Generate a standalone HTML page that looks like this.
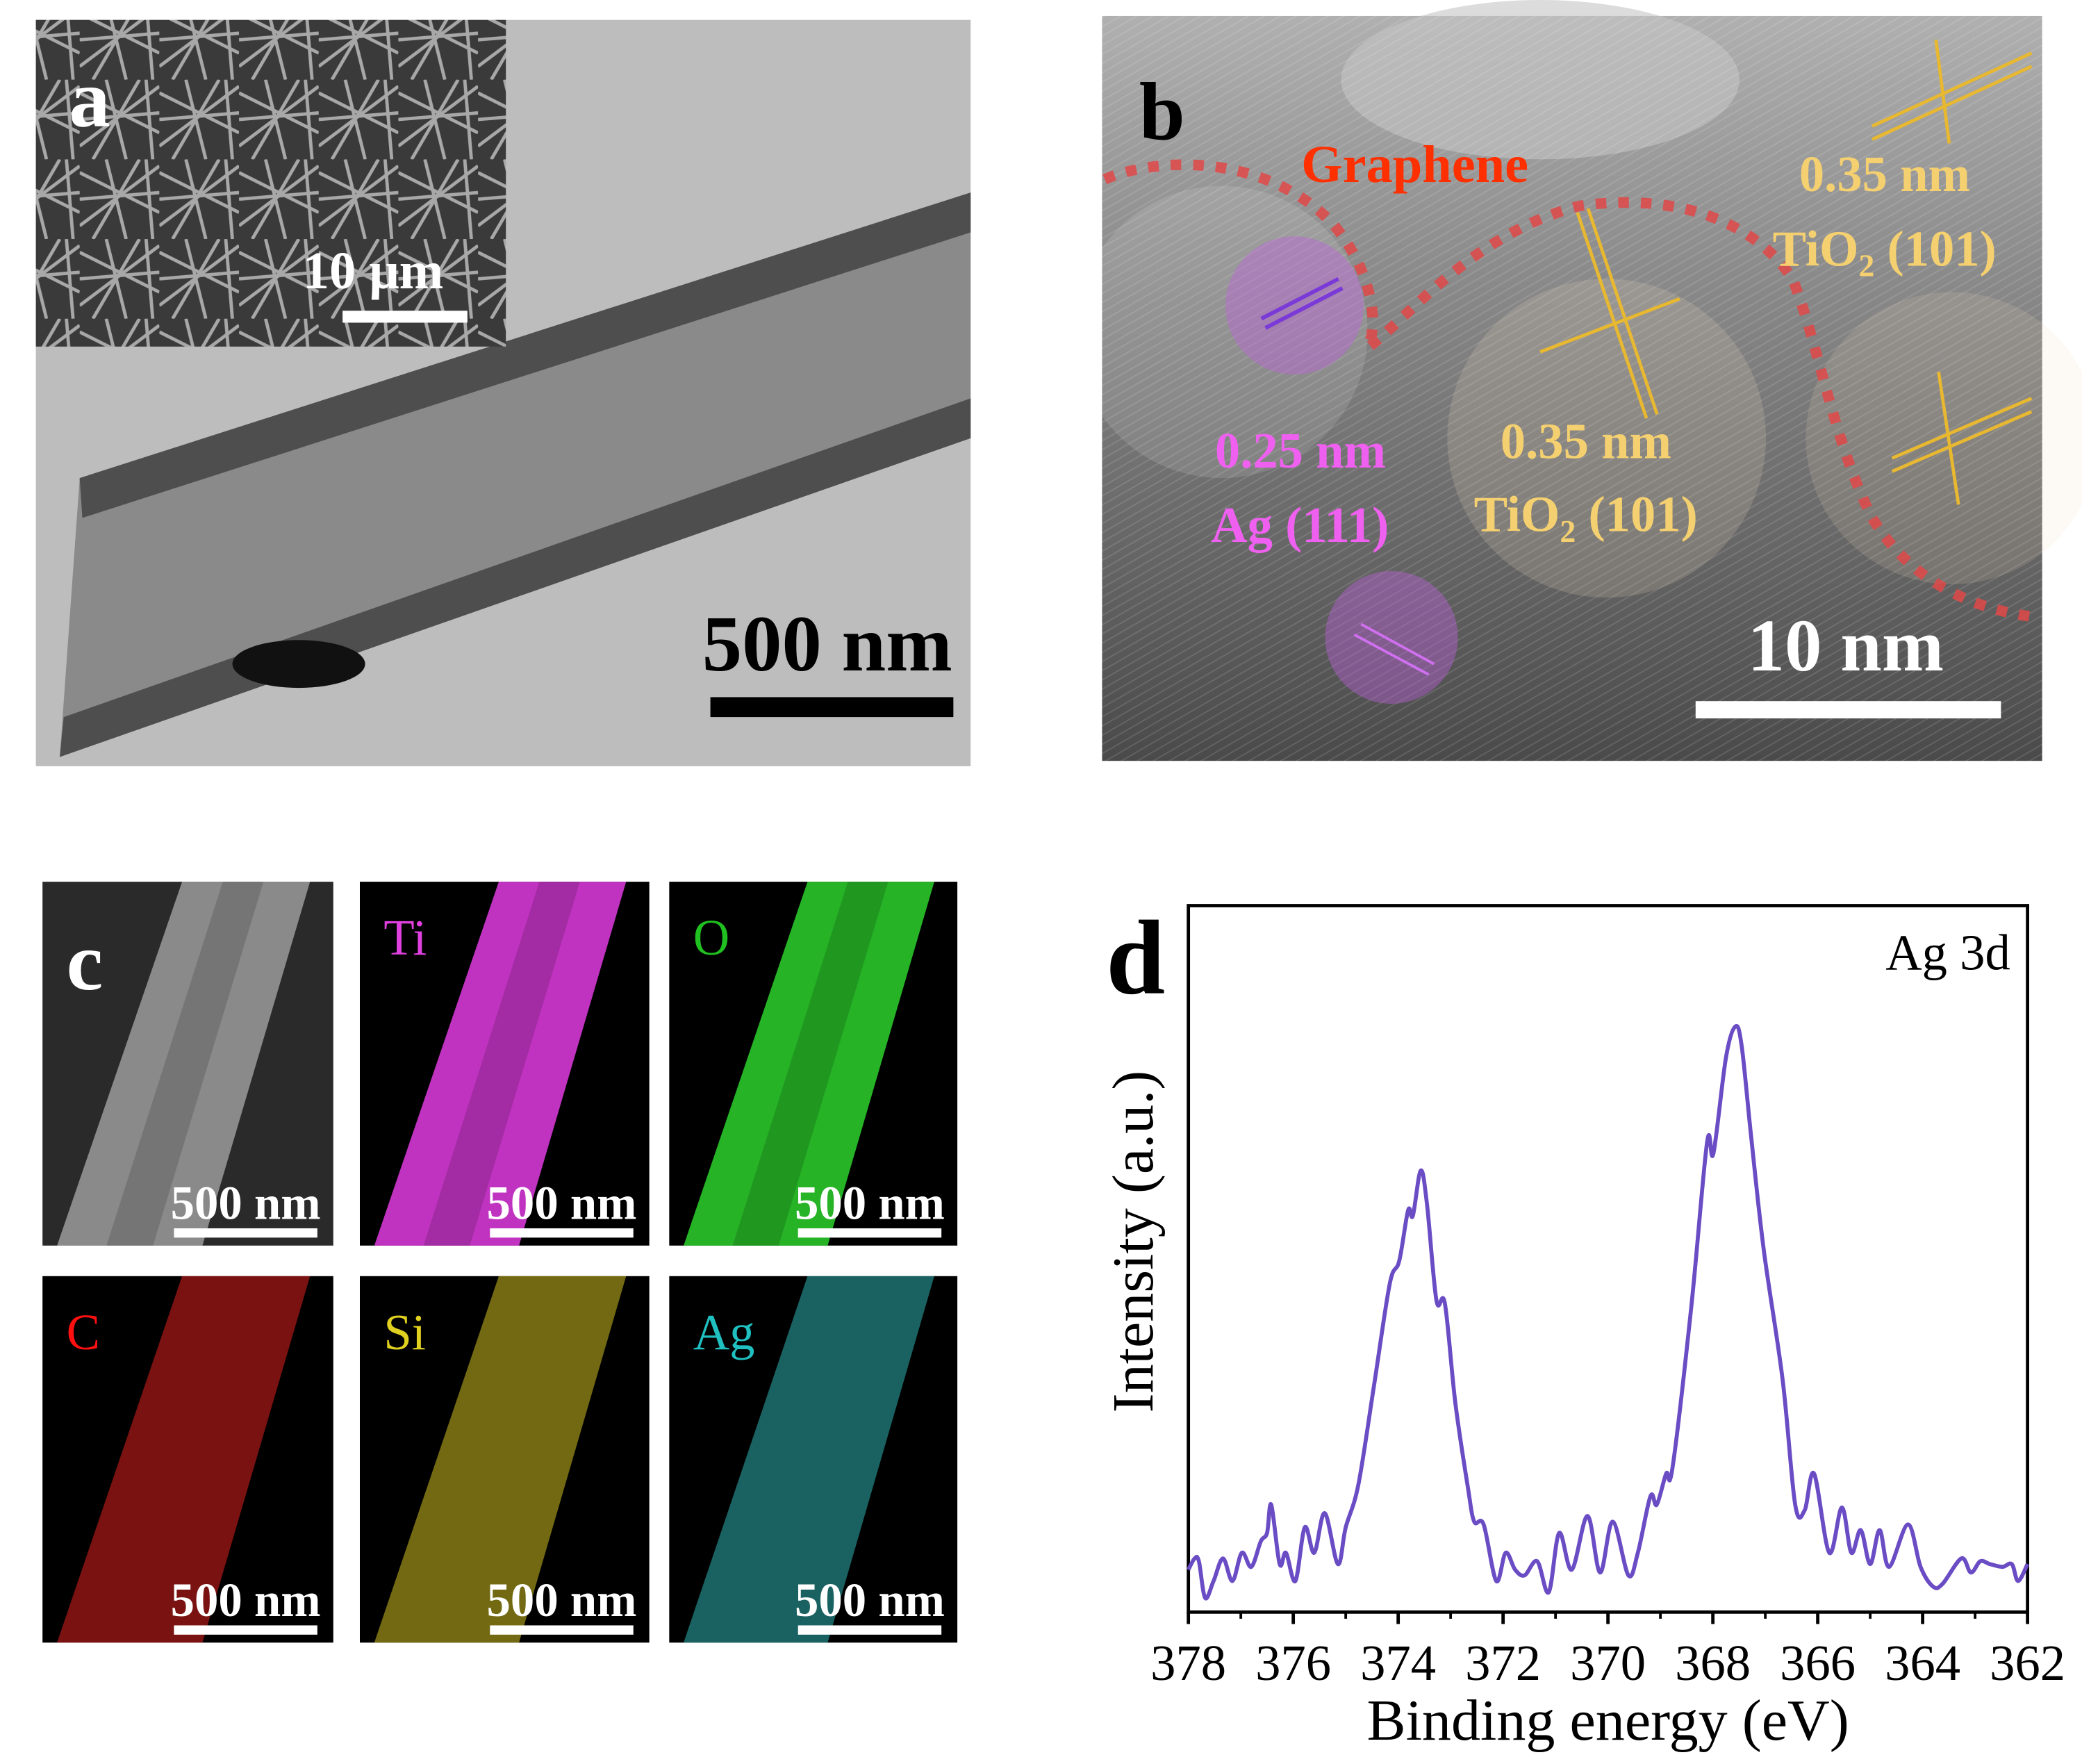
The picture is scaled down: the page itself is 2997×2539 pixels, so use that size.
<!DOCTYPE html>
<html><head><meta charset="utf-8"><style>
html,body{margin:0;padding:0;background:#fff}
svg{display:block}
text{font-family:"Liberation Serif",serif}
</style></head><body>
<svg id="fig" width="2997" height="2539" viewBox="0 0 1568 1328.4" xmlns="http://www.w3.org/2000/svg">
<defs>
<linearGradient id="bgB" x1="0" y1="0" x2="0" y2="1">
<stop offset="0" stop-color="#b0b0b0"/><stop offset="0.35" stop-color="#8a8a8a"/><stop offset="1" stop-color="#4a4a4a"/></linearGradient>
<pattern id="sem" width="60" height="60" patternUnits="userSpaceOnUse">
<rect width="60" height="60" fill="#3a3a3a"/>
<path d="M0 10 L60 40 M0 50 L60 5 M20 0 L35 60 M45 0 L10 60 M0 30 L60 25 M50 0 L55 60" stroke="#a8a8a8" stroke-width="2.5"/>
</pattern>
<pattern id="lat" width="6" height="6" patternUnits="userSpaceOnUse" patternTransform="rotate(-30)">
<rect width="6" height="6" fill="none"/><line x1="0" y1="0" x2="6" y2="0" stroke="#ffffff" stroke-opacity="0.12" stroke-width="2"/></pattern>
</defs>

<!-- Panel a -->
<g>
<rect x="27" y="15" width="704" height="562" fill="#bdbdbd"/>
<polygon points="60,360 731,145 731,330 45,570" fill="#8a8a8a"/>
<polygon points="60,360 731,145 731,175 62,390" fill="#4e4e4e"/>
<polygon points="48,540 731,300 731,330 45,570" fill="#4e4e4e"/>
<ellipse cx="225" cy="500" rx="50" ry="18" fill="#111"/>
<rect x="27" y="15" width="354" height="246" fill="url(#sem)"/>
<text x="52" y="95" font-size="62" font-weight="bold" fill="#fff">a</text>
<text x="228" y="217" font-size="40" font-weight="bold" fill="#fff">10 μm</text>
<rect x="258" y="234" width="94" height="9" fill="#fff"/>
<text x="623" y="505" font-size="60" font-weight="bold" fill="#000" text-anchor="middle">500 nm</text>
<rect x="535" y="525" width="183" height="15" fill="#000"/>
</g>

<!-- Panel b -->
<g>
<rect x="830" y="12" width="708" height="561" fill="url(#bgB)"/>
<ellipse cx="1160" cy="60" rx="150" ry="60" fill="#c4c4c4" fill-opacity="0.6"/>
<rect x="830" y="12" width="708" height="561" fill="url(#lat)"/>
<circle cx="920" cy="250" r="110" fill="#ffffff" fill-opacity="0.12"/>
<circle cx="1210" cy="330" r="120" fill="#f0e0c0" fill-opacity="0.18"/>
<circle cx="1470" cy="330" r="110" fill="#f0e0c0" fill-opacity="0.15"/>
<circle cx="975" cy="230" r="52" fill="#c060e0" fill-opacity="0.4"/>
<circle cx="1048" cy="480" r="50" fill="#c060e0" fill-opacity="0.4"/>
<path d="M950 240 L1008 210 M953 247 L1011 217" stroke="#7a3ad8" stroke-width="3"/>
<path d="M1025 470 L1080 500 M1020 478 L1076 508" stroke="#d070f0" stroke-width="2"/>
<path d="M1160 265 L1265 225 M1188 160 L1240 315 M1196 157 L1248 312" stroke="#e8b830" stroke-width="2.5"/>
<path d="M1410 95 L1530 40 M1410 105 L1530 50 M1458 30 L1468 108" stroke="#e8b830" stroke-width="2.5"/>
<path d="M1425 345 L1530 300 M1425 355 L1530 310 M1460 280 L1475 380" stroke="#e8b830" stroke-width="2.5"/>
<path d="M832 135 C880 115 960 120 1005 170 C1030 200 1040 240 1030 262 C1060 240 1110 175 1190 155 C1260 145 1320 165 1350 210 C1370 260 1380 330 1410 390 C1440 440 1490 460 1535 465" fill="none" stroke="#e04848" stroke-width="8" stroke-dasharray="8 9" stroke-opacity="0.85"/>
<text x="858" y="105" font-size="62" font-weight="bold" fill="#000">b</text>
<text x="980" y="137" font-size="40" font-weight="bold" fill="#ff3000">Graphene</text>
<text x="1355" y="144" font-size="38" font-weight="bold" fill="#f5d070">0.35 nm</text>
<text x="1335" y="200" font-size="38" font-weight="bold" fill="#f5d070">TiO<tspan font-size="24" dy="8">2</tspan><tspan dy="-8"> (101)</tspan></text>
<text x="915" y="352" font-size="38" font-weight="bold" fill="#f060f0">0.25 nm</text>
<text x="912" y="408" font-size="38" font-weight="bold" fill="#f060f0">Ag (111)</text>
<text x="1130" y="345" font-size="38" font-weight="bold" fill="#f5d070">0.35 nm</text>
<text x="1110" y="400" font-size="38" font-weight="bold" fill="#f5d070">TiO<tspan font-size="24" dy="8">2</tspan><tspan dy="-8"> (101)</tspan></text>
<text x="1390" y="505" font-size="56" font-weight="bold" fill="#fff" text-anchor="middle">10 nm</text>
<rect x="1277" y="528" width="230" height="13" fill="#fff"/>
</g>

<!-- Panel c -->
<g id="panelC"></g>

<!-- Panel d -->
<g id="chart"></g>
</svg>
<script>
// ---- Panel d data (Ag 3d XPS) ----
const energies=[378.00,377.88,377.80,377.68,377.52,377.34,377.16,376.98,376.80,376.62,376.50,376.42,376.26,376.14,375.96,375.78,375.60,375.40,375.15,375.00,374.76,374.46,374.16,373.98,373.81,373.72,373.57,373.45,373.27,373.11,372.91,372.67,372.55,372.37,372.13,371.95,371.77,371.59,371.35,371.13,370.93,370.69,370.39,370.15,369.91,369.61,369.43,369.19,369.07,368.89,368.77,368.41,368.11,367.99,367.75,367.57,367.45,367.27,367.03,366.67,366.43,366.25,366.07,365.78,365.54,365.36,365.18,365.00,364.82,364.64,364.28,364.04,363.80,363.62,363.26,363.08,362.90,362.72,362.48,362.30,362.18,362.00];
const intensities=[6.0,7.6,7.2,2.0,4.4,7.6,4.4,8.4,6.4,10.0,11.2,15.2,6.8,8.4,4.4,12.0,8.4,14.0,6.8,12.0,18.0,32.1,46.5,49.7,56.9,56.1,62.5,57.7,44.1,43.7,29.6,17.6,12.8,12.4,4.4,8.4,6.0,5.2,7.2,2.8,11.2,6.0,13.6,5.6,12.8,5.2,8.4,16.4,15.2,19.6,20.4,43.3,66.5,64.9,78.5,82.9,80.1,67.3,51.3,32.9,15.2,14.4,19.6,8.4,14.8,8.4,11.6,6.8,11.6,6.4,12.4,6.4,3.6,4.0,7.6,5.6,7.2,6.8,6.4,6.8,4.4,6.8];
const xTicks=[378,376,374,372,370,368,366,364,362];
const xMinor=[377,375,373,371,369,367,365,363];
const tileLabels=["","Ti","O","C","Si","Ag"];
const tileColors=["#d8d8d8","#f040f0","#30e030","#e02020","#d0c020","#30b0b0"];
const tileTextColors=["#fff","#e040e0","#20c020","#ff1010","#e0d020","#20c0c0"];

const NS="http://www.w3.org/2000/svg";
function mk(tag,attrs,parent){const e=document.createElementNS(NS,tag);for(const k in attrs)e.setAttribute(k,attrs[k]);parent.appendChild(e);return e;}

// Panel c tiles
const pc=document.getElementById('panelC');
const cols=[[32,251],[271,489],[504,721]], rows=[[664,938],[961,1237]];
for(let i=0;i<6;i++){
  const [x0,x1]=cols[i%3],[y0,y1]=rows[Math.floor(i/3)];const w=x1-x0,h=y1-y0;
  const g=mk('g',{},pc);
  
  
  mk('rect',{x:x0,y:y0,width:w,height:h,fill:i===0?'#2a2a2a':'#000'},g);
  mk('polygon',{points:`${x0+0.05*w},${y1} ${x0+0.55*w},${y1} ${x0+0.92*w},${y0} ${x0+0.48*w},${y0}`,fill:tileColors[i],'fill-opacity':i===0?0.55:(i<3?0.8:0.55)},g);
  if(i<3){mk('polygon',{points:`${x0+0.22*w},${y1} ${x0+0.38*w},${y1} ${x0+0.76*w},${y0} ${x0+0.62*w},${y0}`,fill:'#000','fill-opacity':0.15},g);}
  if(tileLabels[i]){const t=mk('text',{x:x0+18,y:y0+55,'font-size':38,fill:tileTextColors[i]},g);t.textContent=tileLabels[i];
    
    }
  const st=mk('text',{x:x1-66,y:y1-20,'font-size':36,'font-weight':'bold',fill:'#fff','text-anchor':'middle'},g);st.textContent='500 nm';
  
  
  const sb=mk('rect',{x:x1-120,y:y1-13,width:108,height:7,fill:'#fff'},g);
  
  
}
const cl=mk('text',{x:50,y:745,'font-size':62,'font-weight':'bold',fill:'#fff'},pc);cl.textContent='c';



// Panel d chart
const ch=document.getElementById('chart');
const L=895,R=1527,T=682,B=1214;
const xs=e=>L+(378-e)/(378-362)*(R-L);
const ys=v=>B-v/100*(B-T);
const box=mk('rect',{x:L,y:T,width:R-L,height:B-T,fill:'none',stroke:'#000','stroke-width':2.5},ch);


xTicks.forEach(v=>{
  const tk=mk('line',{x1:xs(v),x2:xs(v),y1:B,y2:B+9,stroke:'#000','stroke-width':2.5},ch);
  
  
  const t=mk('text',{x:xs(v),y:B+51,'font-size':38,'text-anchor':'middle',fill:'#000'},ch);t.textContent=v;
  
  
});
xMinor.forEach(v=>{
  const tk=mk('line',{x1:xs(v),x2:xs(v),y1:B,y2:B+5,stroke:'#000','stroke-width':2},ch);
  
  
});
const P=energies.map((e,i)=>[xs(e),ys(intensities[i])]);
let d=`M${P[0][0]},${P[0][1]}`;
for(let i=0;i<P.length-1;i++){const p0=P[Math.max(0,i-1)],p1=P[i],p2=P[i+1],p3=P[Math.min(P.length-1,i+2)];
  d+=` C${p1[0]+(p2[0]-p0[0])/6},${p1[1]+(p2[1]-p0[1])/6} ${p2[0]-(p3[0]-p1[0])/6},${p2[1]-(p3[1]-p1[1])/6} ${p2[0]},${p2[1]}`;}
const line=mk('path',{d:d,fill:'none',stroke:'#6a4cc4','stroke-width':3,'stroke-linejoin':'round'},ch);


const xl=mk('text',{x:(L+R)/2,y:1310,'font-size':44,'text-anchor':'middle',fill:'#000'},ch);xl.textContent='Binding energy (eV)';


const yl=mk('text',{x:0,y:0,'font-size':44,'text-anchor':'middle',fill:'#000',transform:'translate(868,935) rotate(-90)'},ch);yl.textContent='Intensity (a.u.)';


const dl=mk('text',{x:833,y:748,'font-size':80,'font-weight':'bold',fill:'#000'},ch);dl.textContent='d';


const ag=mk('text',{x:1514,y:730,'font-size':38,'text-anchor':'end',fill:'#000'},ch);ag.textContent='Ag 3d';


</script>
</body></html>
